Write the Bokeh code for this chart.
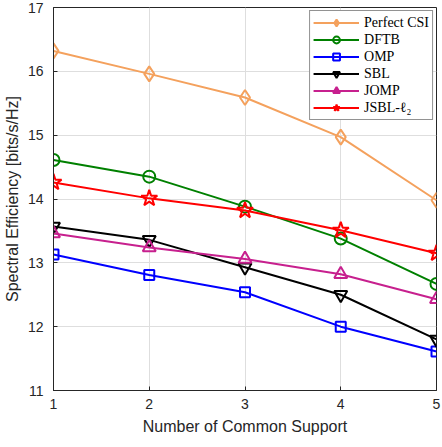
from bokeh.plotting import figure
from bokeh.models import Range1d, Legend, LegendItem, FixedTicker
from bokeh.embed import file_html
from bokeh.resources import INLINE

x = [1, 2, 3, 4, 5]
perfect_csi = [16.32, 15.96, 15.59, 14.97, 13.98]
dftb = [14.61, 14.35, 13.88, 13.38, 12.67]
omp = [13.13, 12.81, 12.54, 12.00, 11.61]
sbl = [13.57, 13.36, 12.93, 12.50, 11.80]
jomp = [13.46, 13.24, 13.06, 12.82, 12.43]
jsbl = [14.26, 14.01, 13.82, 13.51, 13.15]
x_ticks = [1, 2, 3, 4, 5]
y_ticks = [11, 12, 13, 14, 15, 16, 17]

series = [
    ("Perfect CSI", perfect_csi, "#F4A15D", "diamond", 15),
    ("DFTB", dftb, "#008000", "circle", 12),
    ("OMP", omp, "#0000FF", "square", 10),
    ("SBL", sbl, "#000000", "inverted_triangle", 13),
    ("JOMP", jomp, "#C7208E", "triangle", 13),
    ("JSBL-\u2113\u2082", jsbl, "#FF0000", "star", 17),
]

p = figure(frame_width=383, frame_height=383, output_backend="svg", toolbar_location=None,
           x_range=Range1d(1, 5), y_range=Range1d(11, 17),
           min_border_left=45, min_border_right=6, min_border_top=7, min_border_bottom=49)

items = []
for name, ys, color, marker, size in series:
    r1 = p.line(x, ys, line_color=color, line_width=2)
    r2 = p.scatter(x, ys, marker=marker, size=size, line_color=color, line_width=2,
                   fill_color=None)
    items.append(LegendItem(label=name, renderers=[r1, r2]))

legend = Legend(items=items, location="top_right")
legend.label_text_font = "Liberation Serif"
legend.label_text_font_size = "14px"
legend.label_text_color = "#000000"
legend.glyph_width = 46
legend.glyph_height = 17
legend.label_height = 17
legend.spacing = 0
legend.padding = 3
legend.margin = 3
legend.border_line_color = "#262626"
legend.border_line_width = 1
legend.background_fill_alpha = 1
p.add_layout(legend)

for ax in (p.xaxis, p.yaxis):
    ax.major_label_text_font = "Liberation Sans"
    ax.major_label_text_font_size = "14px"
    ax.major_label_text_color = "#262626"
    ax.axis_label_text_font = "Liberation Sans"
    ax.axis_label_text_font_size = "16px"
    ax.axis_label_text_font_style = "normal"
    ax.axis_label_text_color = "#262626"
    ax.axis_line_color = "#262626"
    ax.major_tick_line_color = "#262626"
    ax.major_tick_in = 4
    ax.major_tick_out = 0
    ax.minor_tick_line_color = None

p.xaxis.ticker = FixedTicker(ticks=x_ticks)
p.yaxis.ticker = FixedTicker(ticks=y_ticks)
p.xaxis.axis_label = "Number of Common Support"
p.yaxis.axis_label = "Spectral Efficiency [bits/s/Hz]"
p.xaxis.major_label_standoff = 8
p.yaxis.major_label_standoff = 10
p.xaxis.axis_label_standoff = 6
p.yaxis.axis_label_standoff = 4

p.xgrid.grid_line_color = "#dedede"
p.ygrid.grid_line_color = "#dedede"
p.outline_line_color = "#262626"
p.background_fill_color = "white"

open("out.html", "w").write(file_html(p, INLINE))
